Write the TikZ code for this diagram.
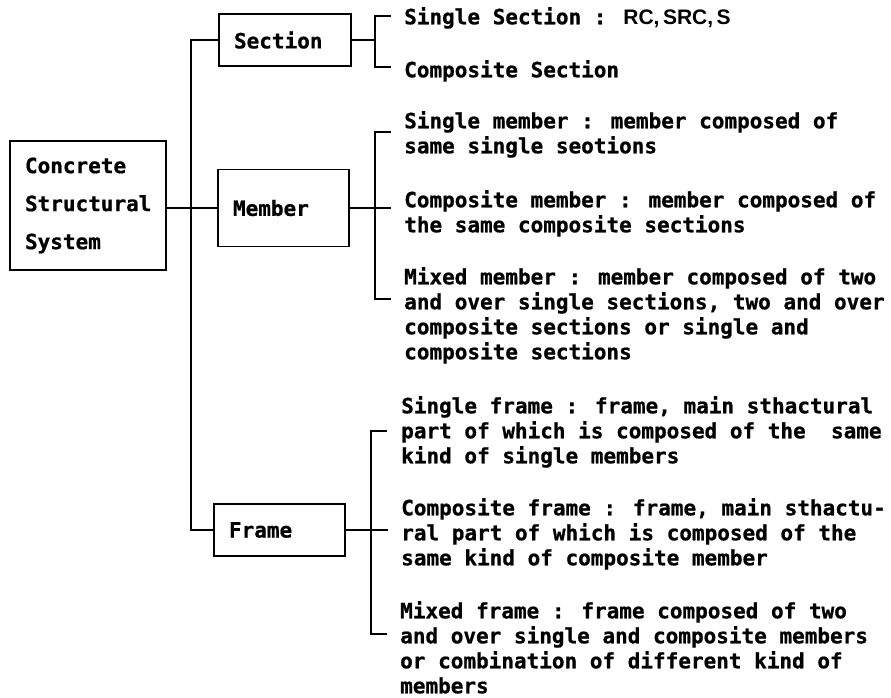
\documentclass[tikz,border=0pt]{standalone}
\usepackage{fontspec}
\newfontfamily\monob[BoldFont={DejaVu Sans Mono Bold},BoldFeatures={FakeBold=0.8}]{DejaVu Sans Mono}
\newfontfamily\sansb{Liberation Sans}
\begin{document}
\begin{tikzpicture}[x=1pt,y=-1pt,
  ln/.style={line width=1.6pt, line cap=rect},
  bx/.style={draw, line width=1.6pt, rectangle, inner xsep=15pt, inner ysep=0pt, align=left,
    font=\monob\bfseries\fontsize{21}{38}\selectfont},
  txt/.style={anchor=north west, inner sep=0pt, align=left,
    font=\monob\bfseries\fontsize{21}{25}\selectfont}]
\useasboundingbox (0,0) rectangle (891,697);
\fill[white] (0,0) rectangle (891,697);

% boxes
\node[bx, text width=126pt, minimum height=129pt] (css) at (88,205.5) {Concrete\\Structural\\System};
\node[bx, text width=102pt, minimum height=52pt] (sec) at (285,40) {Section};
\node[bx, text width=101pt, minimum height=77pt] (mem) at (283.5,208) {Member};
\node[bx, text width=101pt, minimum height=52pt] (frm) at (279.5,530) {Frame};

% trunk
\coordinate (tTop) at (191,40);
\coordinate (tBot) at (191,530);
\draw[ln] (sec.west) -- (tTop) -- (tBot) -- (frm.west);
\draw[ln] (css.east |- mem.west) -- (mem.west);

% section bracket
\coordinate (sbT) at (375,16);
\coordinate (sbB) at (375,67);
\coordinate (sbM) at (375,40);
\coordinate (sbTe) at (390,16);
\coordinate (sbBe) at (390,67);
\draw[ln] (sbTe) -- (sbT) -- (sbB) -- (sbBe);
\draw[ln] (sec.east) -- (sbM);

% member bracket
\coordinate (mbT) at (375,132);
\coordinate (mbB) at (375,299);
\coordinate (mbTe) at (390,132);
\coordinate (mbBe) at (390,299);
\coordinate (mbMe) at (390,208);
\draw[ln] (mbTe) -- (mbT) -- (mbB) -- (mbBe);
\draw[ln] (mem.east) -- (mbMe);

% frame bracket
\coordinate (fbT) at (371,431);
\coordinate (fbB) at (371,634);
\coordinate (fbTe) at (386,431);
\coordinate (fbBe) at (386,634);
\coordinate (fbMe) at (387,530);
\draw[ln] (fbTe) -- (fbT) -- (fbB) -- (fbBe);
\draw[ln] (frm.east) -- (fbMe);

% section texts
\node[txt] (s1) at (404,7) {Single Section : {\sansb\bfseries RC,\,SRC,\,S}};
\node[txt] (s2) at (404,60) {Composite Section};

% member texts
\node[txt] (m1) at (404,111) {Single member : member composed of\\same single seotions};
\node[txt] (m2) at (404,190) {Composite member : member composed of\\the same composite sections};
\node[txt] (m3) at (404,267) {Mixed member : member composed of two\\and over single sections, two and over\\composite sections or single and\\composite sections};

% frame texts
\node[txt] (f1) at (401,396) {Single frame : frame, main sthactural\\part of which is composed of the\ \ same\\kind of single members};
\node[txt] (f2) at (401,498) {Composite frame : frame, main sthactu-\\ral part of which is composed of the\\same kind of composite member};
\node[txt] (f3) at (400,601) {Mixed frame : frame composed of two\\and over single and composite members\\or combination of different kind of\\members};
\end{tikzpicture}
\end{document}
